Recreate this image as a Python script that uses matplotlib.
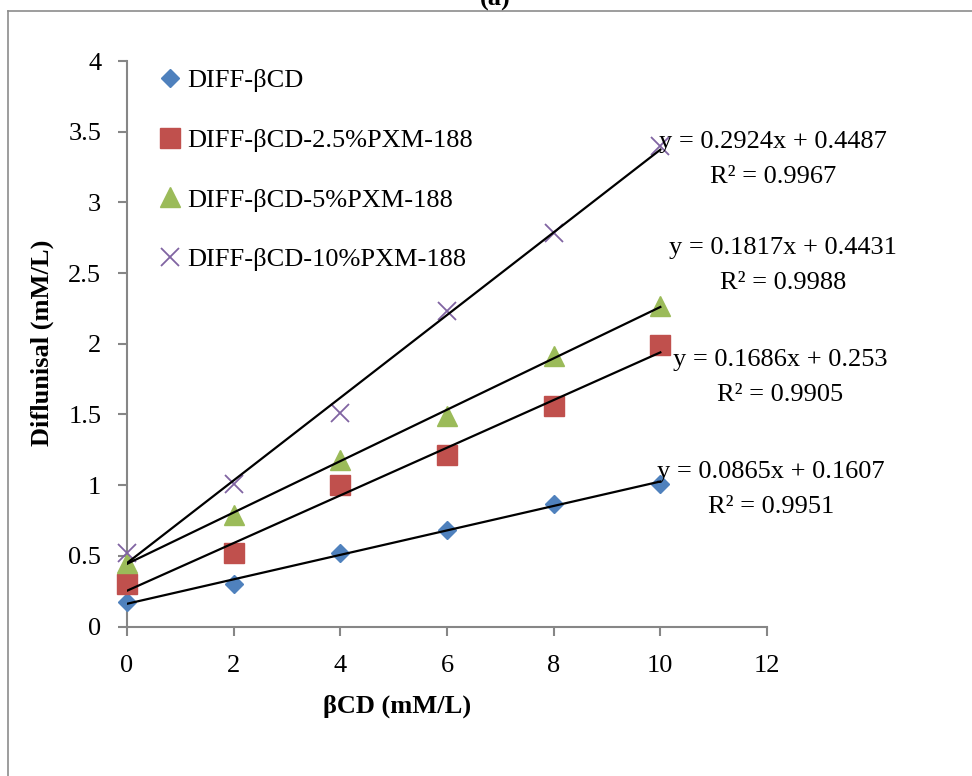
import numpy as np
import matplotlib
matplotlib.use("Agg")
import matplotlib.pyplot as plt
from matplotlib.ticker import FormatStrFormatter
from matplotlib.lines import Line2D

plt.rcParams['font.family'] = ['Liberation Serif', 'DejaVu Serif']

# concentrations of beta-CD
bcd = [0, 2, 4, 6, 8, 10]

# measured diflunisal solubility for each system
diff_bcd = [0.17, 0.30, 0.52, 0.68, 0.87, 1.01]
diff_bcd_25 = [0.30, 0.52, 1.00, 1.21, 1.56, 1.99]
diff_bcd_5 = [0.45, 0.79, 1.18, 1.49, 1.91, 2.27]
diff_bcd_10 = [0.52, 1.01, 1.51, 2.23, 2.78, 3.40]

labels = ['DIFF-\u03b2CD', 'DIFF-\u03b2CD-2.5%PXM-188',
          'DIFF-\u03b2CD-5%PXM-188', 'DIFF-\u03b2CD-10%PXM-188']

# linear trendline coefficients (slope, intercept) and R^2 as printed
slopes = [0.0865, 0.1686, 0.1817, 0.2924]
intercepts = [0.1607, 0.253, 0.4431, 0.4487]
r2 = ['0.9951', '0.9905', '0.9988', '0.9967']

FS = 19
W, H = 972, 776
fig = plt.figure(figsize=(W / 100, H / 100), dpi=100)
ax = fig.add_axes([127 / W, 1 - 626.5 / H, 640 / W, 565.5 / H])

series = [diff_bcd, diff_bcd_25, diff_bcd_5, diff_bcd_10]
colors = ['#4F81BD', '#C0504D', '#9BBB59', '#8064A2']
markers = ['D', 's', '^', 'x']
sizes = [9.5, 14, 14, 13]

handles = []
for ys, c, m, s, lab in zip(series, colors, markers, sizes, labels):
    if m == 'x':
        h, = ax.plot(bcd, ys, ls='none', marker=m, ms=s, color=c, mew=1.3,
                     label=lab, clip_on=False, zorder=3)
    else:
        h, = ax.plot(bcd, ys, ls='none', marker=m, ms=s, color=c, mec=c,
                     label=lab, clip_on=False, zorder=3)
    handles.append(h)

xfit = np.array([bcd[0], bcd[-1]])
for a, b in zip(slopes, intercepts):
    ax.plot(xfit, a * xfit + b, color='black', lw=1.6, zorder=4)

ax.set_xlim(0, 12)
ax.set_ylim(0, 4)
ax.set_xticks(np.arange(0, 13, 2))
ax.set_yticks(np.arange(0, 4.01, 0.5))
ax.yaxis.set_major_formatter(FormatStrFormatter('%g'))
for sp in ['top', 'right']:
    ax.spines[sp].set_visible(False)
for sp in ['left', 'bottom']:
    ax.spines[sp].set_color('#868686')
    ax.spines[sp].set_linewidth(1.5)
ax.tick_params(axis='both', direction='out', length=6.5, width=1.5,
               color='#868686', labelsize=FS)
ax.tick_params(axis='x', pad=14)
ax.tick_params(axis='y', pad=12)

ax.set_xlabel('\u03b2CD (mM/L)', fontsize=FS, fontweight='bold')
ax.xaxis.set_label_coords(270 / 640, -(706 - 626.5) / 565.5)
ax.xaxis.label.set_va('center')
ax.set_ylabel('Diflunisal (mM/L)', fontsize=FS, fontweight='bold')
ax.yaxis.set_label_coords(-(127 - 42) / 640, (626.5 - 343) / 565.5)
ax.yaxis.label.set_va('center')

ax.legend(handles=handles, loc='upper left', frameon=False,
          bbox_to_anchor=(157 / W, 1 - 69 / H), bbox_transform=fig.transFigure,
          fontsize=FS, handlelength=1.0, handletextpad=0.15,
          labelspacing=1.37, borderpad=0, borderaxespad=0, numpoints=1)

# equation labels (pixel centres)
eq_pos = [(771, 472), (780, 360), (783, 248), (773, 142)]
for (px, py), a, b, r in zip(eq_pos, slopes, intercepts, r2):
    fig.text(px / W, 1 - py / H, 'y = %gx + %g' % (a, b), ha='center',
             va='center', fontsize=FS)
    fig.text(px / W, 1 - (py + 35) / H, 'R\u00b2 = ' + r, ha='center',
             va='center', fontsize=FS)

# outer frame and cut-off panel title
fig.add_artist(Line2D([8 / W, 1], [1 - 11 / H, 1 - 11 / H],
                      color='#8c8c8c', lw=1.2))
fig.add_artist(Line2D([8 / W, 8 / W], [0, 1 - 11 / H],
                      color='#8c8c8c', lw=1.2))
fig.text(495 / W, 1 - 6 / H, '(a)', ha='center', va='baseline',
         fontsize=FS, fontweight='bold')

fig.savefig('out.png', dpi=100)
